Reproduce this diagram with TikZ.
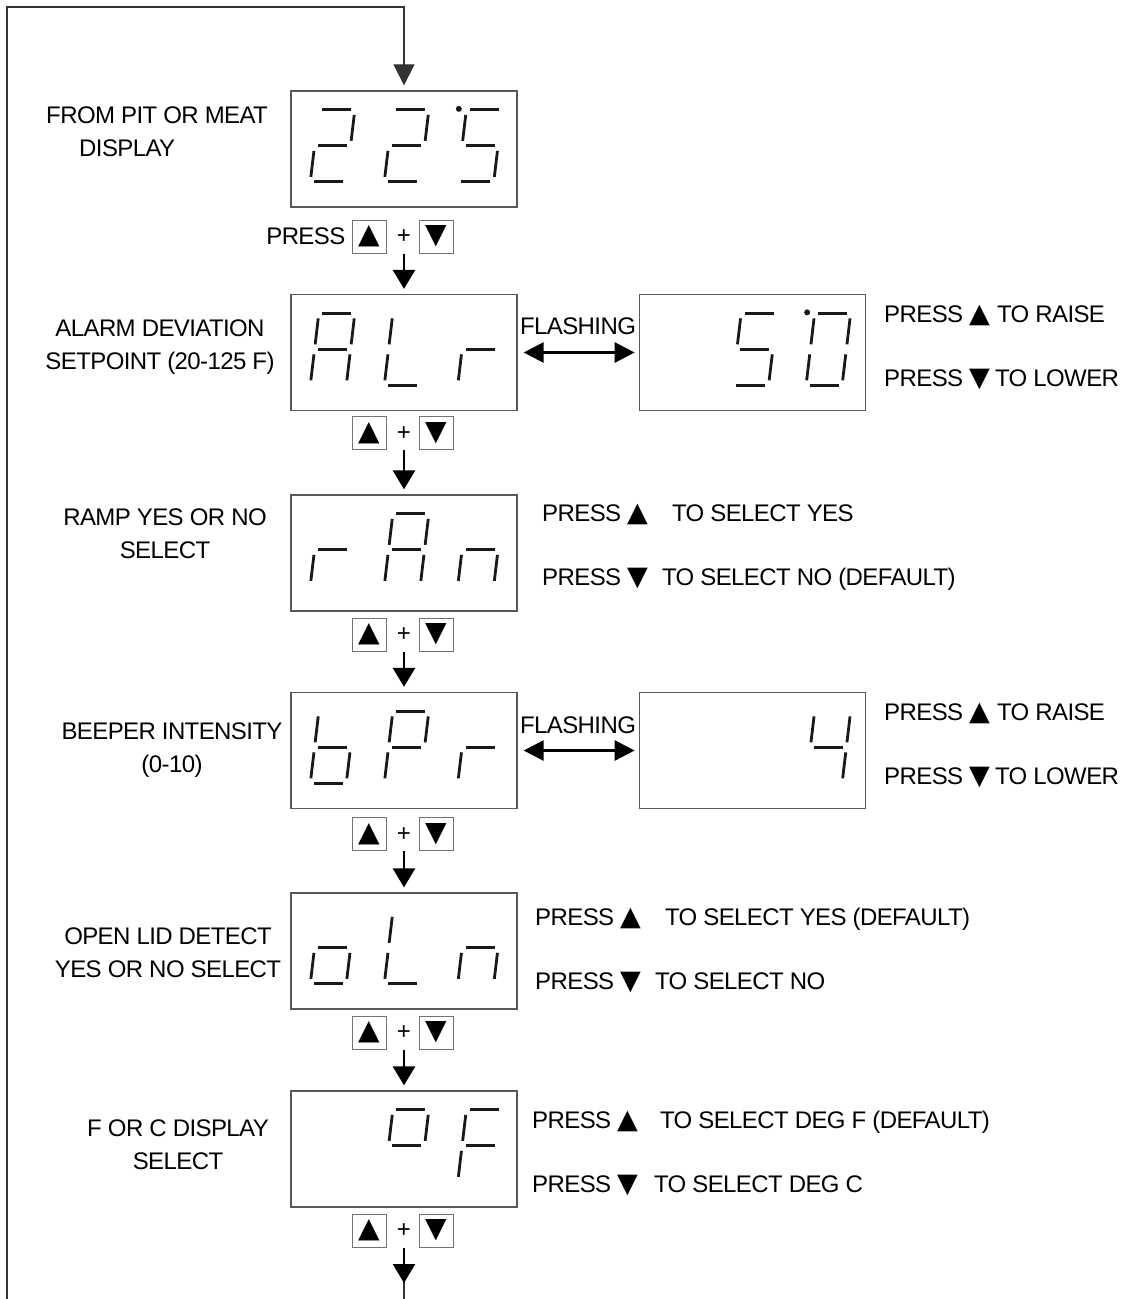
\documentclass[tikz,border=0pt]{standalone}
\usepackage{fontspec}
\setmainfont{Liberation Sans}[LetterSpace=-2.5]
\newfontfamily\symfont{DejaVu Sans}
\usetikzlibrary{arrows.meta,positioning}

% seven-segment pieces, frame corner at 0/0, y runs downwards
\def\sga{3.5/0/32.5/0}
\def\sgb{35.4/5/32.3/31}
\def\sgc{31.1/41/28/67}
\def\sgd{-5.1/72/23.9/72}
\def\sge{-4.9/41/-8/67}
\def\sgf{-0.6/5/-3.7/31}
\def\sgg{-0.8/36/28.2/36}
\edef\chTwo{\sga,\sgb,\sgg,\sge,\sgd}
\edef\chFive{\sga,\sgf,\sgg,\sgc,\sgd}
\edef\chZero{\sga,\sgb,\sgc,\sgd,\sge,\sgf}
\edef\chFour{\sgf,\sgg,\sgb,\sgc}
\edef\chA{\sga,\sgb,\sgc,\sge,\sgf,\sgg}
\edef\chL{\sgf,\sge,\sgd}
\edef\chR{\sgg,\sge}
\edef\chN{\sgg,\sge,\sgc}
\edef\chB{\sgf,\sgg,\sge,\sgc,\sgd}
\edef\chP{\sga,\sgb,\sgf,\sgg,\sge}
\edef\chO{\sgg,\sgc,\sgd,\sge}
\edef\chDeg{\sga,\sgb,\sgf,\sgg}
\edef\chF{\sga,\sgf,\sgg,\sge}

\newcommand{\segdigit}[3]{% display, slot offset, segments
  \begin{scope}[shift={(#1.north west)}]
  \begin{scope}[shift={(#2,19.5)}]
    \foreach \xa/\ya/\xb/\yb in #3 {\draw[seg] (\xa,\ya) -- (\xb,\yb);}
  \end{scope}
  \end{scope}}
\newcommand{\segdot}[1]{\fill[black!90] ([shift={(168.5,18.5)}]#1.north west) circle[radius=3pt];}

\newcommand{\upsym}{{\symfont\fontsize{27}{27}\selectfont ▲}}
\newcommand{\dnsym}{{\symfont\fontsize{27}{27}\selectfont ▼}}

\begin{document}
\begin{tikzpicture}[
  x=1pt, y=-1pt,
  lbl/.style={font=\fontsize{24}{33}\selectfont, inner sep=0pt},
  disp/.style={
    draw=black!65,
    line width=1.3pt,
    minimum width=226pt,
    minimum height=116pt,
    inner sep=0pt
  },
  btn/.style={
    draw=black!55,
    line width=1pt,
    minimum width=34pt,
    minimum height=33pt,
    inner sep=0pt,
    font=\symfont\fontsize{28}{28}\selectfont
  },
  seg/.style={line width=2.8pt, draw=black!90},
  flow/.style={line width=2.6pt, -{Triangle[length=19pt,width=22pt]}, shorten >=5pt},
  twoway/.style={line width=2.6pt, {Triangle[length=20pt,width=20pt]}-{Triangle[length=20pt,width=20pt]}, shorten <=6pt, shorten >=4pt},
  loopline/.style={line width=1.2pt, draw=black!80}
]
\useasboundingbox (0,0) rectangle (1127,1299);

% displays
\node[disp] (pit) at (404,149) {};
\node[disp] (alr) at (404,352.5) {};
\node[disp, right=121pt of alr] (alrval) {};
\node[disp] (ram) at (404,553) {};
\node[disp] (bpr) at (404,750.5) {};
\node[disp, right=121pt of bpr] (bprval) {};
\node[disp] (oln) at (404,951) {};
\node[disp] (unit) at (404,1149) {};

% segment readings
\segdigit{pit}{28.5}{\chTwo}
\segdigit{pit}{102.5}{\chTwo}
\segdigit{pit}{176}{\chFive}
\segdot{pit}
\segdigit{alr}{28.5}{\chA}
\segdigit{alr}{102.5}{\chL}
\segdigit{alr}{176}{\chR}
\segdigit{alrval}{102.5}{\chFive}
\segdigit{alrval}{176}{\chZero}
\segdot{alrval}
\segdigit{ram}{28.5}{\chR}
\segdigit{ram}{102.5}{\chA}
\segdigit{ram}{176}{\chN}
\segdigit{bpr}{28.5}{\chB}
\segdigit{bpr}{102.5}{\chP}
\segdigit{bpr}{176}{\chR}
\segdigit{bprval}{176}{\chFour}
\segdigit{oln}{28.5}{\chO}
\segdigit{oln}{102.5}{\chL}
\segdigit{oln}{176}{\chN}
\segdigit{unit}{102.5}{\chDeg}
\segdigit{unit}{176}{\chF}

% step names
\node[lbl, align=left, anchor=west] (pitlbl) at (46,132) {FROM PIT OR MEAT\\\hspace*{33pt}DISPLAY};
\node[lbl, align=center] (alrlbl) at (160,347) {ALARM DEVIATION\\SETPOINT (20-125 F)};
\node[lbl, align=center] (ramlbl) at (165,534) {RAMP YES OR NO\\SELECT};
\node[lbl, align=center] (bprlbl) at (172,750) {BEEPER INTENSITY\\(0-10)};
\node[lbl, align=center] (olnlbl) at (168,953) {OPEN LID DETECT\\YES OR NO SELECT};
\node[lbl, align=center] (unitlbl) at (178,1145) {F OR C DISPLAY\\SELECT};

% key rows
\node[btn, below=12pt of pit, xshift=-35pt] (up1) {▲};
\node[btn, right=32pt of up1] (dn1) {▼};
\node[lbl] (plus1) at (up1 -| pit) {+};
\node[lbl, left=6pt of up1] (press1) {PRESS};

\node[btn, below=5pt of alr, xshift=-35pt] (up2) {▲};
\node[btn, right=32pt of up2] (dn2) {▼};
\node[lbl] (plus2) at (up2 -| alr) {+};

\node[btn, below=6pt of ram, xshift=-35pt] (up3) {▲};
\node[btn, right=32pt of up3] (dn3) {▼};
\node[lbl] (plus3) at (up3 -| ram) {+};

\node[btn, below=8pt of bpr, xshift=-35pt] (up4) {▲};
\node[btn, right=32pt of up4] (dn4) {▼};
\node[lbl] (plus4) at (up4 -| bpr) {+};

\node[btn, below=6pt of oln, xshift=-35pt] (up5) {▲};
\node[btn, right=32pt of up5] (dn5) {▼};
\node[lbl] (plus5) at (up5 -| oln) {+};

\node[btn, below=6pt of unit, xshift=-35pt] (up6) {▲};
\node[btn, right=32pt of up6] (dn6) {▼};
\node[lbl] (plus6) at (up6 -| unit) {+};

% hints
\node[lbl] (flash1) at (578,326.5) {FLASHING};
\node[lbl] (flash2) at (578,725) {FLASHING};
\node[lbl, align=left, anchor=west] (alrhint) at (884,347)
  {PRESS \upsym\hspace{7pt}TO RAISE\\[31pt]PRESS \dnsym\hspace{5pt}TO LOWER};
\node[lbl, align=left, anchor=west] (ramhint) at (542,547)
  {PRESS \upsym\hspace{24pt}TO SELECT YES\\[31pt]PRESS \dnsym\hspace{14pt}TO SELECT NO (DEFAULT)};
\node[lbl, align=left, anchor=west] (bprhint) at (884,745)
  {PRESS \upsym\hspace{7pt}TO RAISE\\[31pt]PRESS \dnsym\hspace{5pt}TO LOWER};
\node[lbl, align=left, anchor=west] (olnhint) at (535,950)
  {PRESS \upsym\hspace{24pt}TO SELECT YES (DEFAULT)\\[31pt]PRESS \dnsym\hspace{14pt}TO SELECT NO};
\node[lbl, align=left, anchor=west] (unithint) at (532,1153)
  {PRESS \upsym\hspace{22pt}TO SELECT DEG F (DEFAULT)\\[31pt]PRESS \dnsym\hspace{16pt}TO SELECT DEG C};

% flow
\draw[flow] (up1.south -| alr.north) -- (alr.north);
\draw[flow] (up2.south -| ram.north) -- (ram.north);
\draw[flow] (up3.south -| bpr.north) -- (bpr.north);
\draw[flow] (up4.south -| oln.north) -- (oln.north);
\draw[flow] (up5.south -| unit.north) -- (unit.north);
\draw[twoway] (alr.east) -- (alrval.west);
\draw[twoway] (bpr.east) -- (bprval.west);

% back to the start
\coordinate (exit) at (404,1283);
\coordinate (loopB) at (404,1299);
\coordinate (loopBL) at (7,1299);
\coordinate (loopTL) at (7,7);
\draw[loopline] (up6.south -| unit.south) -- (loopB);
\draw[flow, shorten >=0pt] (up6.south -| unit.south) -- (exit);
\draw[loopline, -{Triangle[length=21pt,width=21pt]}, shorten >=5pt]
  (loopBL) -- (loopTL) -- (pit.north |- loopTL) -- (pit.north);

\end{tikzpicture}
\end{document}
